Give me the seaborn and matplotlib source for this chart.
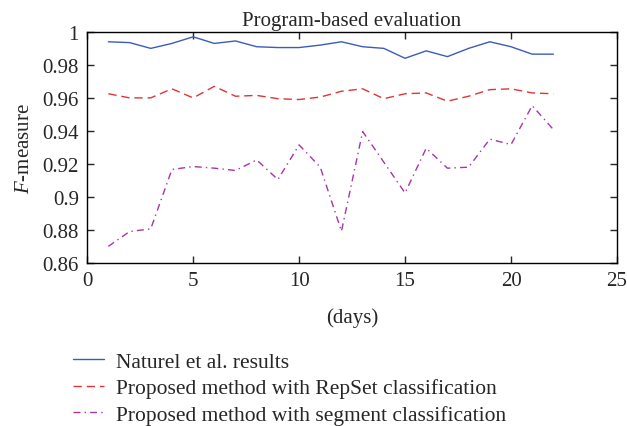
import matplotlib
matplotlib.use("Agg")
import matplotlib.pyplot as plt
import seaborn as sns
import pandas as pd

days = list(range(1, 23))
naturel = [0.994, 0.9935, 0.990, 0.993, 0.997, 0.993, 0.9945, 0.991, 0.9905, 0.9905, 0.992,
           0.994, 0.991, 0.990, 0.984, 0.9885, 0.985, 0.990, 0.994, 0.991, 0.9865, 0.9865]
repset = [0.9625, 0.960, 0.960, 0.9655, 0.960, 0.967, 0.961, 0.9615, 0.9595, 0.959, 0.9605,
          0.964, 0.9655, 0.9595, 0.9625, 0.963, 0.958, 0.961, 0.965, 0.9655, 0.963, 0.9625]
segment = [0.870, 0.879, 0.8806, 0.9166, 0.9184, 0.9174, 0.916, 0.9224, 0.9105, 0.9315, 0.918,
           0.8792, 0.9396, 0.921, 0.9024, 0.9295, 0.9174, 0.918, 0.935, 0.9317, 0.9553, 0.9408]
labels = ["Naturel et al. results",
          "Proposed method with RepSet classification",
          "Proposed method with segment classification"]
colors = ["#3b5cb8", "#e03434", "#a834a8"]
styles = ["-", (0, (6, 3.5)), (0, (5, 3, 1, 3))]
xticks = [0, 5, 10, 15, 20, 25]
yticks = [0.86, 0.88, 0.9, 0.92, 0.94, 0.96, 0.98, 1]

sns.set_style("ticks")
plt.rcParams['font.family'] = ['Liberation Serif', 'DejaVu Serif']
plt.rcParams['mathtext.fontset'] = 'custom'
plt.rcParams['mathtext.it'] = 'Liberation Serif:italic'
plt.rcParams['mathtext.rm'] = 'Liberation Serif'

fig = plt.figure(figsize=(6.27, 4.27), dpi=100)
ax = fig.add_axes([0.139, 0.382, 0.845, 0.541])

for vals, lab, col, ls in zip([naturel, repset, segment], labels, colors, styles):
    df = pd.DataFrame({"day": days, "f": vals})
    sns.lineplot(data=df, x="day", y="f", ax=ax, color=col, linestyle=ls,
                 linewidth=1.0, label=lab)

ax.set_xlim(0, 25)
ax.set_ylim(0.86, 1)
ax.set_xticks(xticks)
ax.set_xticklabels([str(t) for t in xticks])
ax.set_yticks(yticks)
ax.set_yticklabels(["0.86", "0.88", "0.9", "0.92", "0.94", "0.96", "0.98", "1"])
ax.tick_params(direction="in", top=True, right=True, labelsize=15, length=5, width=1,
               pad=6)
for s in ax.spines.values():
    s.set_visible(True)
    s.set_linewidth(1.0)
    s.set_color("black")

ax.set_title("Program-based evaluation", fontsize=15, pad=5)
ax.set_xlabel("(days)", fontsize=15, labelpad=12)
ax.set_ylabel("$\\it{F}$-measure", fontsize=15, labelpad=6)

ax.legend(loc="upper left", bbox_to_anchor=(-0.026, -0.385), frameon=False, fontsize=15.5,
          handlelength=1.4, handletextpad=0.6, labelspacing=0.3, borderaxespad=0,
          borderpad=0)

fig.savefig("out.png", dpi=100)
